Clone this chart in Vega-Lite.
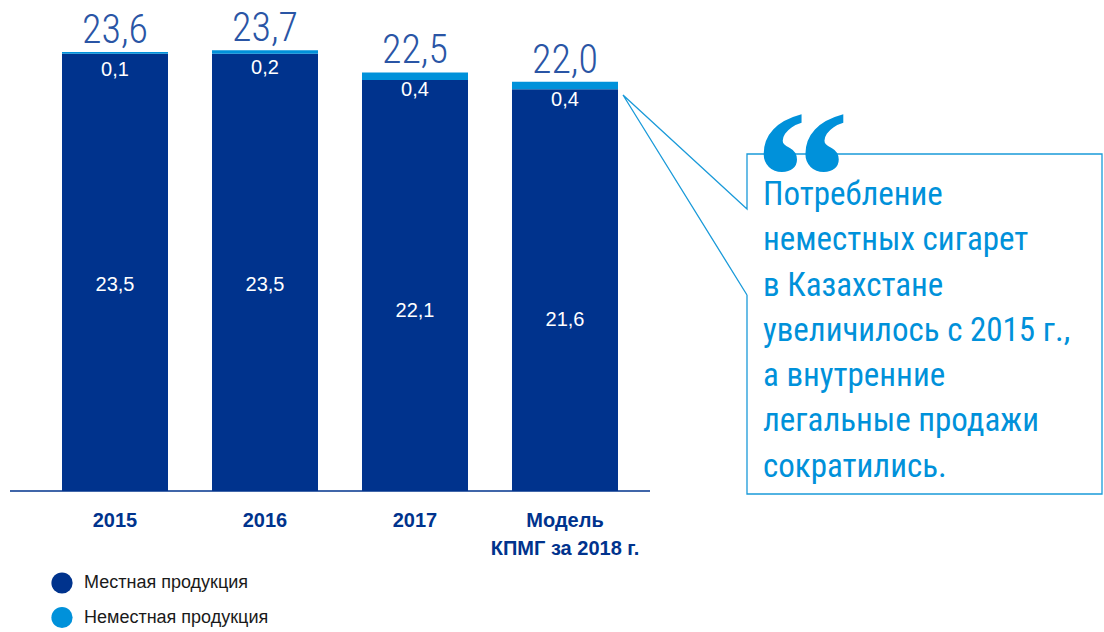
{
  "$schema": "https://vega.github.io/schema/vega-lite/v6.json",
  "width": 1104,
  "height": 632,
  "autosize": {"type": "none"},
  "padding": 0,
  "background": "white",
  "config": {
    "view": {"stroke": null},
    "locale": {"number": {"decimal": ",", "thousands": "\u00a0", "grouping": [3], "currency": ["", ""]}}
  },
  "resolve": {"scale": {"x": "independent"}},
  "layer": [
    {
      "data": {
        "values": [
          {"cat": "2015", "label": "2015", "local": 23.5, "nonlocal": 0.1, "total": 23.6},
          {"cat": "2016", "label": "2016", "local": 23.5, "nonlocal": 0.2, "total": 23.7},
          {"cat": "2017", "label": "2017", "local": 22.1, "nonlocal": 0.4, "total": 22.5},
          {"cat": "model", "label": "Модель\nКПМГ за 2018 г.", "local": 21.6, "nonlocal": 0.4, "total": 22.0}
        ]
      },
      "layer": [
        {
          "transform": [{"fold": ["local", "nonlocal"], "as": ["type", "value"]}],
          "mark": {"type": "bar"},
          "encoding": {
            "x": {"field": "cat", "type": "nominal", "sort": null, "axis": null,
                  "scale": {"domain": ["2015", "2016", "2017", "model"], "range": [40, 640], "paddingInner": 0.29333, "paddingOuter": 0.14667}},
            "y": {"field": "value", "type": "quantitative", "stack": "zero", "axis": null,
                  "scale": {"domain": [-7.58, 26.396], "nice": false, "zero": false}},
            "color": {"field": "type", "type": "nominal",
                      "scale": {"domain": ["local", "nonlocal"], "range": ["#00338D", "#0091DA"]},
                      "legend": {"orient": "none", "legendX": 51, "legendY": 572, "title": null, "symbolType": "circle",
                                 "symbolSize": 450, "symbolStrokeWidth": 0, "labelFontSize": 18, "labelFont": "Arial, Liberation Sans",
                                 "labelColor": "#1a1a1a", "rowPadding": 12.5, "labelOffset": 11, "padding": 0, "labelLimit": 400,
                                 "labelExpr": "datum.label == 'local' ? 'Местная продукция' : 'Неместная продукция'"}},
            "order": {"field": "type", "sort": "ascending"}
          }
        },
        {
          "mark": {"type": "text", "dy": 231, "color": "white", "fontSize": 20, "font": "Arial, Liberation Sans", "baseline": "middle"},
          "encoding": {
            "x": {"field": "cat", "type": "nominal", "sort": null, "axis": null},
            "y": {"field": "local", "type": "quantitative", "axis": null, "scale": {"domain": [-7.58, 26.396], "nice": false, "zero": false}},
            "text": {"field": "local", "type": "quantitative", "format": ".1f"}
          }
        },
        {
          "mark": {"type": "text", "dy": 18, "color": "white", "fontSize": 20, "font": "Arial, Liberation Sans", "baseline": "middle"},
          "encoding": {
            "x": {"field": "cat", "type": "nominal", "sort": null, "axis": null},
            "y": {"field": "total", "type": "quantitative", "axis": null, "scale": {"domain": [-7.58, 26.396], "nice": false, "zero": false}},
            "text": {"field": "nonlocal", "type": "quantitative", "format": ".1f"}
          }
        },
        {
          "mark": {"type": "text", "dy": -9, "color": "#2a55a5", "fontSize": 40, "fontWeight": 300, "font": "Roboto Condensed, Liberation Sans Narrow, DejaVu Sans Condensed, sans-serif", "baseline": "alphabetic"},
          "encoding": {
            "x": {"field": "cat", "type": "nominal", "sort": null, "axis": null},
            "y": {"field": "total", "type": "quantitative", "axis": null, "scale": {"domain": [-7.58, 26.396], "nice": false, "zero": false}},
            "text": {"field": "total", "type": "quantitative", "format": ".1f"}
          }
        },
        {
          "mark": {"type": "text", "dy": 36, "color": "#00338D", "fontSize": 20, "fontWeight": "bold", "font": "Arial, Liberation Sans", "baseline": "alphabetic", "lineBreak": "\n", "lineHeight": 28},
          "encoding": {
            "x": {"field": "cat", "type": "nominal", "sort": null, "axis": null},
            "y": {"datum": 0, "type": "quantitative", "axis": null, "scale": {"domain": [-7.58, 26.396], "nice": false, "zero": false}},
            "text": {"field": "label", "type": "nominal"}
          }
        }
      ]
    },
    {
      "layer": [
        {
          "data": {"values": [{"x1": 0.3, "x2": 4.5667, "y": 0}]},
          "mark": {"type": "rule", "color": "#00338D", "strokeWidth": 1.5},
          "encoding": {
            "x": {"field": "x1", "type": "quantitative", "axis": null, "scale": {"domain": [0.23333, 7.59333], "nice": false, "zero": false}},
            "x2": {"field": "x2"},
            "y": {"field": "y", "type": "quantitative", "axis": null, "scale": {"domain": [-7.58, 26.396], "nice": false, "zero": false}}
          }
        },
        {
          "data": {"values": [
            {"i": 0, "ax": 5.2133, "ay": 10.538},
            {"i": 1, "ax": 4.3867, "ay": 21.29},
            {"i": 2, "ax": 5.2133, "ay": 15.16},
            {"i": 3, "ax": 5.2133, "ay": 18.118},
            {"i": 4, "ax": 7.58, "ay": 18.118},
            {"i": 5, "ax": 7.58, "ay": -0.161},
            {"i": 6, "ax": 5.2133, "ay": -0.161},
            {"i": 7, "ax": 5.2133, "ay": 10.538}
          ]},
          "mark": {"type": "line", "color": "#1a9ad9", "strokeWidth": 1.3},
          "encoding": {
            "x": {"field": "ax", "type": "quantitative", "axis": null, "scale": {"domain": [0.23333, 7.59333], "nice": false, "zero": false}},
            "y": {"field": "ay", "type": "quantitative", "axis": null, "scale": {"domain": [-7.58, 26.396], "nice": false, "zero": false}},
            "order": {"field": "i", "type": "quantitative"}
          }
        },
        {
          "data": {"values": [{"ax": 5.58, "ay": 18.98, "t": "“"}]},
          "mark": {"type": "text", "font": "Liberation Serif", "fontWeight": "bold", "fontSize": 190, "color": "#0091DA", "baseline": "alphabetic", "align": "center", "dy": 103},
          "encoding": {
            "x": {"field": "ax", "type": "quantitative", "axis": null, "scale": {"domain": [0.23333, 7.59333], "nice": false, "zero": false}},
            "y": {"field": "ay", "type": "quantitative", "axis": null, "scale": {"domain": [-7.58, 26.396], "nice": false, "zero": false}},
            "text": {"field": "t", "type": "nominal"}
          }
        },
        {
          "data": {"values": [{"ax": 5.32, "ay": 15.376, "t": "Потребление\nнеместных сигарет\nв Казахстане\nувеличилось с 2015 г.,\nа внутренние\nлегальные продажи\nсократились."}]},
          "mark": {"type": "text", "font": "Roboto Condensed, Liberation Sans Narrow, DejaVu Sans Condensed, sans-serif", "fontSize": 33, "color": "#0091DA", "baseline": "alphabetic", "align": "left", "lineBreak": "\n", "lineHeight": 45.3},
          "encoding": {
            "x": {"field": "ax", "type": "quantitative", "axis": null, "scale": {"domain": [0.23333, 7.59333], "nice": false, "zero": false}},
            "y": {"field": "ay", "type": "quantitative", "axis": null, "scale": {"domain": [-7.58, 26.396], "nice": false, "zero": false}},
            "text": {"field": "t", "type": "nominal"}
          }
        }
      ]
    }
  ]
}
